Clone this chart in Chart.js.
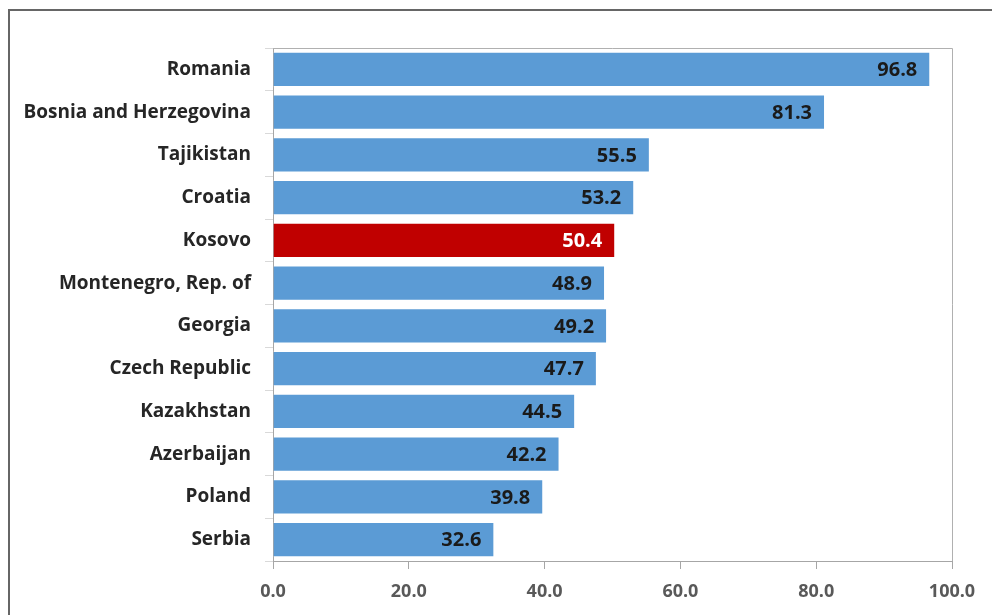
<!DOCTYPE html>
<html>
<head>
<meta charset="utf-8">
<script src="https://cdn.jsdelivr.net/npm/chart.js@4"></script>
<style>
  html, body { margin: 0; padding: 0; background: #fff; }
  #wrap { width: 992px; height: 615px; }
</style>
</head>
<body>
<div id="wrap"><canvas id="myChart" width="992" height="615"></canvas></div>
<script>
const countries = ['Romania', 'Bosnia and Herzegovina', 'Tajikistan', 'Croatia', 'Kosovo',
  'Montenegro, Rep. of', 'Georgia', 'Czech Republic', 'Kazakhstan', 'Azerbaijan', 'Poland', 'Serbia'];
const values = [96.8, 81.3, 55.5, 53.2, 50.4, 48.9, 49.2, 47.7, 44.5, 42.2, 39.8, 32.6];
const xTicks = [0, 20, 40, 60, 80, 100];
const highlight = 'Kosovo';

const FONT = '"Open Sans", "DejaVu Sans", sans-serif';

// white background, outer frame and the top/right edges of the plot
const framePlugin = {
  id: 'frame',
  beforeDraw(chart) {
    const { ctx } = chart;
    ctx.save();
    ctx.fillStyle = '#fff';
    ctx.fillRect(0, 0, chart.width, chart.height);
    ctx.strokeStyle = '#666';
    ctx.lineWidth = 2;
    ctx.strokeRect(9, 10, chart.width + 20, chart.height + 20);
    ctx.restore();
  },
  afterDraw(chart) {
    const { ctx, chartArea: a } = chart;
    ctx.save();
    ctx.strokeStyle = '#b0b0b0';
    ctx.lineWidth = 1;
    ctx.beginPath();
    ctx.moveTo(a.left, a.top + 0.5);
    ctx.lineTo(a.right + 0.5, a.top + 0.5);
    ctx.lineTo(a.right + 0.5, a.bottom);
    ctx.stroke();
    ctx.restore();
  }
};

// value labels at the inside end of every bar
const valueLabels = {
  id: 'valueLabels',
  afterDatasetsDraw(chart) {
    const { ctx } = chart;
    const meta = chart.getDatasetMeta(0);
    ctx.save();
    ctx.font = 'bold 20px ' + FONT;
    ctx.textAlign = 'right';
    ctx.textBaseline = 'middle';
    meta.data.forEach((bar, i) => {
      ctx.fillStyle = countries[i] === highlight ? '#ffffff' : '#1a1a1a';
      ctx.fillText(values[i].toFixed(1), bar.x - 13, bar.y + 1);
    });
    ctx.restore();
  }
};

new Chart(document.getElementById('myChart'), {
  type: 'bar',
  data: {
    labels: countries,
    datasets: [{
      data: values,
      backgroundColor: countries.map(c => c === highlight ? '#C00000' : '#5B9BD5'),
      borderColor: 'rgba(255,255,255,0.5)',
      borderWidth: 1,
      barPercentage: 0.83,
      categoryPercentage: 1
    }]
  },
  options: {
    indexAxis: 'y',
    responsive: false,
    animation: false,
    layout: { padding: { left: 10, top: 48, right: 40, bottom: 0 } },
    plugins: { legend: { display: false }, tooltip: { enabled: false } },
    scales: {
      x: {
        min: 0,
        max: 100,
        afterBuildTicks: s => { s.ticks = xTicks.map(v => ({ value: v })); },
        afterFit: s => { s.height = 54; },
        grid: { drawOnChartArea: false, drawTicks: true, tickLength: 8, color: '#a6a6a6' },
        border: { color: '#a6a6a6' },
        ticks: {
          padding: 12,
          color: '#595959',
          font: { family: FONT, size: 18, weight: 'bold' },
          callback: v => Number(v).toFixed(1)
        }
      },
      y: {
        afterFit: s => { s.width = 263; },
        grid: { drawOnChartArea: false, drawTicks: true, tickLength: 8, color: '#d9d9d9', offset: true },
        border: { color: '#a6a6a6' },
        ticks: {
          padding: 14,
          color: '#262626',
          font: { family: FONT, size: 19, weight: 'bold' }
        }
      }
    }
  },
  plugins: [framePlugin, valueLabels]
});
</script>
</body>
</html>
